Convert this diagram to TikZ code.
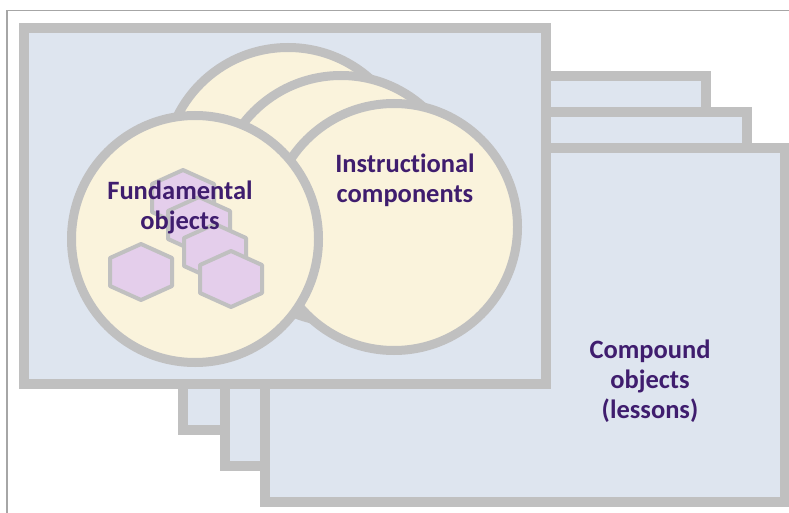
\documentclass[tikz,border=0pt]{standalone}
\usepackage{fontspec}
\setmainfont{Carlito}[Ligatures=NoCommon]
\definecolor{slidefill}{HTML}{DEE5EF}
\definecolor{framegray}{HTML}{C0C0C0}
\definecolor{discfill}{HTML}{FAF3DC}
\definecolor{hexfill}{HTML}{E4CEEB}
\definecolor{labelink}{HTML}{3F1D6E}
\definecolor{pagerule}{HTML}{A6A6A6}
\begin{document}
\begin{tikzpicture}[x=1pt,y=-1pt,
  slide/.style={draw=framegray, fill=slidefill, line width=10pt},
  disc/.style={draw=framegray, fill=discfill, line width=9pt},
  hexstyle/.style={draw=framegray, fill=hexfill, line width=4pt, line join=round},
  tagtext/.style={text=labelink, font=\bfseries\fontsize{26.5}{30}\selectfont, align=center, inner sep=0pt},
  hexcell/.pic={\draw[hexstyle] (0,-28) -- (31,-14) -- (31,14) -- (0,28) -- (-31,14) -- (-31,-14) -- cycle;}
]
\useasboundingbox (0,0) rectangle (789,513);
% thin page rule along the top and left
\draw[pagerule, line width=1.2pt] (7,513) -- (7,10.5) -- (789,10.5);

% stack of compound-object slides, back to front
\draw[slide] (183,76) rectangle (706,430);
\draw[slide] (225,112) rectangle (747,466);
\draw[slide] (265,148) rectangle (785,502);
\draw[slide] (23.5,28.5) rectangle (546,384);

% instructional component discs, back to front
\draw[disc] (288,171) circle[radius=123.5];
\draw[disc] (341,199) circle[radius=123.5];
\draw[disc] (394,227) circle[radius=123.5];
\draw[disc] (195,239) circle[radius=123.5];

% fundamental objects
\pic at (183,198) {hexcell};
\pic at (199,225) {hexcell};
\pic at (215,252) {hexcell};
\pic at (231,279) {hexcell};
\pic at (141,272) {hexcell};

% labels (base anchor sits on the last line)
\node[tagtext, anchor=base] (fundamental) at (180,229) {Fundamental\\objects};
\node[tagtext, anchor=base] (instructional) at (405,203) {Instructional\\components};
\node[tagtext, anchor=base] (compound) at (650,418) {Compound\\objects\\(lessons)};
\end{tikzpicture}
\end{document}
